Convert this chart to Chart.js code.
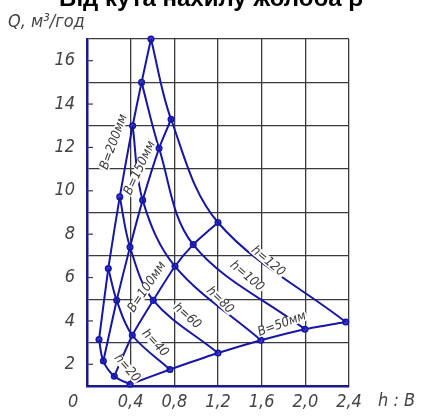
<!DOCTYPE html>
<html>
<head>
<meta charset="utf-8">
<script src="https://cdn.jsdelivr.net/npm/chart.js@4"></script>
<style>
  body { margin: 0; background: #fff; }
  #wrap { width: 422px; height: 416px; position: relative; }
</style>
</head>
<body>
<div id="wrap"><canvas id="myChart"></canvas></div>
<script>
// h : B ratio values (x) and Q, m3/h (y)
const hValues = [20, 40, 60, 80, 100, 120];
const bNames = ['B=200мм', 'B=150мм', 'B=100мм', 'B=50мм'];

const ratioB200 = [0.11, 0.195, 0.30, 0.418, 0.50, 0.586];
const qB200 = [3.14, 6.42, 9.72, 13.0, 15.0, 17.0];
const ratioB150 = [0.15, 0.272, 0.394, 0.51, 0.66, 0.77];
const qB150 = [2.15, 4.95, 7.41, 9.57, 11.96, 13.3];
const ratioB100 = [0.25, 0.415, 0.607, 0.806, 0.973, 1.20];
const qB100 = [1.45, 3.34, 4.95, 6.52, 7.52, 8.54];
const ratioB50 = [0.394, 0.76, 1.20, 1.593, 1.996, 2.37];
const qB50 = [1.08, 1.76, 2.52, 3.11, 3.62, 3.95];

const xTickLabels = ['', '0,4', '0,8', '1,2', '1,6', '2,0', '2,4'];
const yTickLabels = ['2', '4', '6', '8', '10', '12', '14', '16'];

// curve label anchors, in data units
const labelText = ['B=200мм', 'B=150мм', 'B=100мм', 'B=50мм', 'h=20', 'h=40', 'h=60', 'h=80', 'h=100', 'h=120'];
const labelX = [0.247, 0.485, 0.55, 1.786, 0.366, 0.623, 0.916, 1.218, 1.465, 1.658];
const labelY = [12.25, 11.05, 5.56, 3.85, 1.82, 2.97, 4.22, 4.95, 6.06, 6.75];
const labelAngle = [-70, -65, -56, -20, 49, 47, 41, 44, 40, 40];

const blue = '#1616a6';
const gridCol = '#3a3a3a';
const techFont = "'Liberation Sans Narrow', 'DejaVu Sans Condensed', sans-serif";

const bRatios = [ratioB200, ratioB150, ratioB100, ratioB50];
const bQs = [qB200, qB150, qB100, qB50];

const datasets = [];
// lines of constant h (through the same points of each B line)
hValues.forEach((h, j) => {
  datasets.push({
    label: 'h=' + h,
    data: bRatios.map((r, i) => ({ x: r[j], y: bQs[i][j] })),
    showLine: true,
    borderColor: blue,
    borderWidth: 2,
    pointRadius: 0,
    tension: 0.35,
    clip: false
  });
});
// lines of constant B, with the markers
bNames.forEach((name, i) => {
  datasets.push({
    label: name,
    data: bRatios[i].map((r, j) => ({ x: r, y: bQs[i][j] })),
    showLine: true,
    borderColor: blue,
    borderWidth: 2,
    pointRadius: 2.8,
    pointBorderWidth: 1.5,
    pointBackgroundColor: '#3c3cc8',
    pointBorderColor: blue,
    tension: 0.2,
    clip: false
  });
});

const extras = {
  id: 'extras',
  beforeDatasetsDraw(chart) {
    const ctx = chart.ctx, a = chart.chartArea, ys = chart.scales.y;
    ctx.save();
    ctx.strokeStyle = gridCol;
    ctx.lineWidth = 1.2;
    yTickLabels.forEach(t => {
      const py = ys.getPixelForValue(Number(t));
      ctx.beginPath();
      ctx.moveTo(a.left, py);
      ctx.lineTo(a.left + 6, py);
      ctx.stroke();
    });
    ctx.restore();
  },
  afterDatasetsDraw(chart) {
    const ctx = chart.ctx, xs = chart.scales.x, ys = chart.scales.y;
    ctx.save();
    ctx.font = 'italic 13px ' + techFont;
    ctx.textAlign = 'center';
    ctx.textBaseline = 'middle';
    labelText.forEach((t, i) => {
      const px = xs.getPixelForValue(labelX[i]);
      const py = ys.getPixelForValue(labelY[i]);
      ctx.save();
      ctx.translate(px, py);
      ctx.rotate(labelAngle[i] * Math.PI / 180);
      const w = ctx.measureText(t).width;
      ctx.fillStyle = '#fff';
      ctx.fillRect(-w / 2 - 1, -5, w + 2, 10);
      ctx.fillStyle = '#3a3a3a';
      ctx.fillText(t, 0, 0);
      ctx.restore();
    });
    ctx.restore();
  },
  afterDraw(chart) {
    const ctx = chart.ctx;
    ctx.save();
    ctx.fillStyle = '#000';
    ctx.font = "bold 24px 'Liberation Sans', Arial, sans-serif";
    ctx.textAlign = 'center';
    ctx.textBaseline = 'alphabetic';
    ctx.fillText('Від кута нахилу жолоба β', 211, 6);

    ctx.fillStyle = '#444';
    ctx.font = 'italic 18px ' + techFont;
    ctx.textAlign = 'left';
    ctx.fillText('Q, м³/год', 8, 27);
    ctx.textBaseline = 'middle';
    ctx.fillText('0', 68, 402);
    ctx.fillText('h : B', 378, 401);
    ctx.restore();
  }
};

new Chart(document.getElementById('myChart'), {
  type: 'scatter',
  data: { datasets: datasets },
  options: {
    responsive: true,
    maintainAspectRatio: false,
    animation: false,
    layout: { padding: { top: 39, right: 73, left: 0, bottom: 0 } },
    plugins: { legend: { display: false }, tooltip: { enabled: false } },
    scales: {
      x: {
        type: 'linear',
        min: 0,
        max: 2.4,
        afterFit: s => { s.height = 30; },
        afterBuildTicks: s => { s.ticks = xTickLabels.map((t, i) => ({ value: i * 0.4 })); },
        ticks: {
          autoSkip: false,
          maxRotation: 0,
          padding: 6,
          color: '#444',
          font: { family: techFont, size: 18, style: 'italic' },
          callback: (v, i) => xTickLabels[i]
        },
        grid: { color: gridCol, lineWidth: 1.3, drawTicks: false },
        border: { color: '#1a1a8c', width: 2.5 }
      },
      y: {
        type: 'linear',
        min: 1,
        max: 17,
        afterFit: s => { s.width = 87; },
        afterBuildTicks: s => {
          const t = [];
          for (let v = 1; v <= 17; v++) t.push({ value: v });
          s.ticks = t;
        },
        ticks: {
          autoSkip: false,
          padding: 12,
          color: '#444',
          font: { family: techFont, size: 18, style: 'italic' },
          callback: v => (yTickLabels.includes(String(v)) ? String(v) : '')
        },
        grid: {
          color: c => (c.tick && c.tick.value % 2 === 1 ? gridCol : 'rgba(0,0,0,0)'),
          lineWidth: 1.3,
          drawTicks: false
        },
        border: { color: '#1a1a8c', width: 2.5 }
      }
    }
  },
  plugins: [extras]
});
</script>
</body>
</html>
